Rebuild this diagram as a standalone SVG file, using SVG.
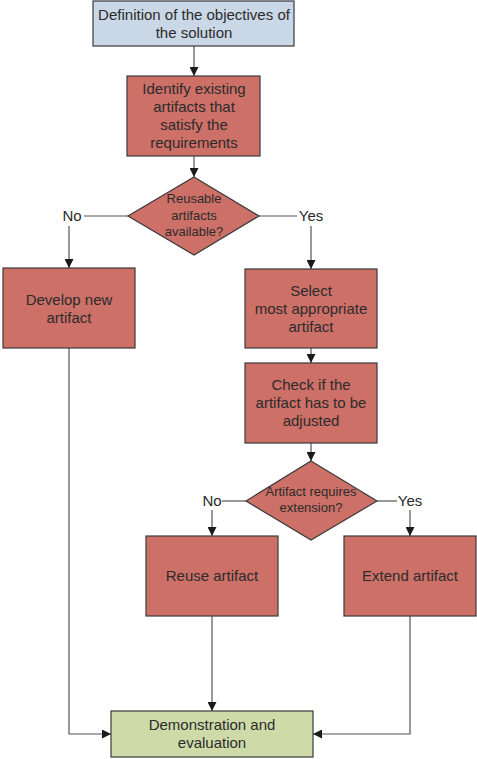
<svg xmlns="http://www.w3.org/2000/svg" width="477" height="759" viewBox="0 0 477 759">
  <style>
    .box { stroke: #3a3a3a; stroke-width: 1.2; }
    .red { fill: #cd7068; }
    .blue { fill: #c9d7e7; }
    .green { fill: #cedba9; }
    .t { font-family: "Liberation Sans", Arial, sans-serif; font-size: 15px; fill: #2b2b2b; text-anchor: middle; }
    .s { font-size: 13px; }
    .edge { fill: none; stroke: #555; stroke-width: 1.2; }
  </style>
  <defs>
    <marker id="arrow" viewBox="0 0 10 10" refX="10" refY="5" markerWidth="9" markerHeight="9" markerUnits="userSpaceOnUse" orient="auto">
      <path d="M0,0 L10,5 L0,10 Z" fill="#1a1a1a"/>
    </marker>
  </defs>

  <rect width="477" height="759" fill="#ffffff"/>

  <!-- connectors -->
  <g id="connectors">
    <path class="edge" d="M194,46 V76" marker-end="url(#arrow)"/>
    <path class="edge" d="M194,156 V177" marker-end="url(#arrow)"/>
    <path class="edge" d="M128,216 H84"/>
    <path class="edge" d="M69,226 V268" marker-end="url(#arrow)"/>
    <path class="edge" d="M259,216 H297"/>
    <path class="edge" d="M311,226 V269" marker-end="url(#arrow)"/>
    <path class="edge" d="M311,348 V363" marker-end="url(#arrow)"/>
    <path class="edge" d="M311,443 V461" marker-end="url(#arrow)"/>
    <path class="edge" d="M246,501 H222"/>
    <path class="edge" d="M212,510 V536" marker-end="url(#arrow)"/>
    <path class="edge" d="M377,501 H397"/>
    <path class="edge" d="M410,510 V536" marker-end="url(#arrow)"/>
    <path class="edge" d="M212,616 V711" marker-end="url(#arrow)"/>
    <path class="edge" d="M69,348 V734 H111" marker-end="url(#arrow)"/>
    <path class="edge" d="M410,616 V734 H313" marker-end="url(#arrow)"/>
    <text class="t" x="72" y="221">No</text>
    <text class="t" x="311" y="221">Yes</text>
    <text class="t" x="212" y="506">No</text>
    <text class="t" x="410" y="506">Yes</text>
  </g>

  <g id="objectives">
    <rect class="box blue" x="93" y="1" width="201" height="45"/>
    <text class="t" x="194" y="20">Definition of the objectives of</text>
    <text class="t" x="194" y="38">the solution</text>
  </g>

  <g id="identify">
    <rect class="box red" x="127" y="76" width="133" height="80"/>
    <text class="t" x="194" y="94">Identify existing</text>
    <text class="t" x="194" y="112">artifacts that</text>
    <text class="t" x="194" y="130">satisfy the</text>
    <text class="t" x="194" y="148">requirements</text>
  </g>

  <g id="reusable">
    <polygon class="box red" points="194,177 259,216 194,255 128,216"/>
    <text class="t s" x="194" y="203">Reusable</text>
    <text class="t s" x="194" y="220">artifacts</text>
    <text class="t s" x="194" y="236">available?</text>
  </g>

  <g id="develop">
    <rect class="box red" x="3" y="268" width="132" height="80"/>
    <text class="t" x="69" y="305">Develop new</text>
    <text class="t" x="69" y="323">artifact</text>
  </g>

  <g id="select">
    <rect class="box red" x="245" y="269" width="132" height="79"/>
    <text class="t" x="311" y="296">Select</text>
    <text class="t" x="311" y="314">most appropriate</text>
    <text class="t" x="311" y="332">artifact</text>
  </g>

  <g id="check">
    <rect class="box red" x="245" y="363" width="132" height="80"/>
    <text class="t" x="311" y="390">Check if the</text>
    <text class="t" x="311" y="408">artifact has to be</text>
    <text class="t" x="311" y="426">adjusted</text>
  </g>

  <g id="extension">
    <polygon class="box red" points="311,461 377,501 311,540 246,501"/>
    <text class="t s" x="311" y="496">Artifact requires</text>
    <text class="t s" x="311" y="512">extension?</text>
  </g>

  <g id="reuse">
    <rect class="box red" x="146" y="536" width="132" height="80"/>
    <text class="t" x="212" y="581">Reuse artifact</text>
  </g>

  <g id="extend">
    <rect class="box red" x="344" y="536" width="132" height="80"/>
    <text class="t" x="410" y="581">Extend artifact</text>
  </g>

  <g id="demonstration">
    <rect class="box green" x="111" y="711" width="202" height="46"/>
    <text class="t" x="212" y="730">Demonstration and</text>
    <text class="t" x="212" y="748">evaluation</text>
  </g>
</svg>
